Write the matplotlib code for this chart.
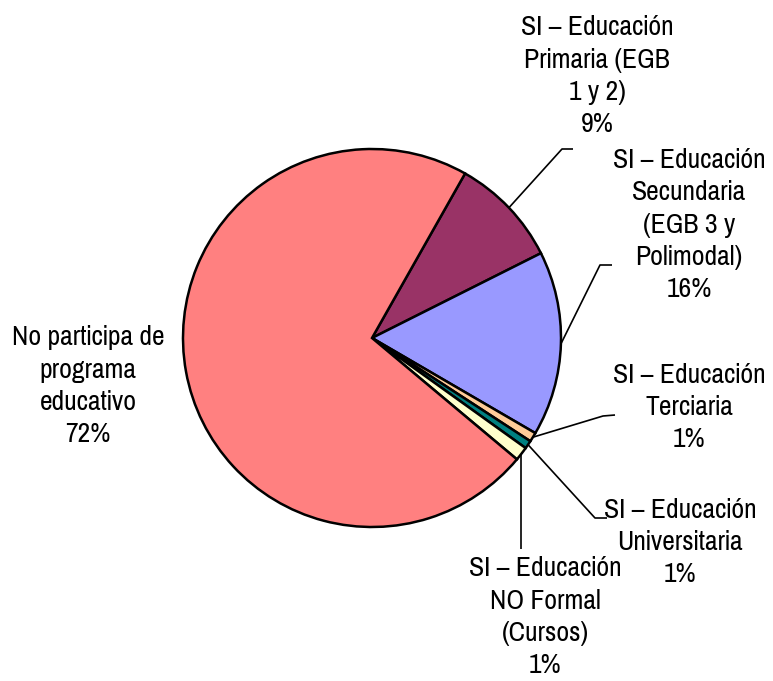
import matplotlib
matplotlib.use("Agg")
import matplotlib.pyplot as plt
import numpy as np

# slices, clockwise from the boundary at ~60 deg
labels = ["SI \u2013 Educación\nPrimaria (EGB\n1 y 2)",
          "SI \u2013 Educación\nSecundaria\n(EGB 3 y\nPolimodal)",
          "SI \u2013 Educación\nTerciaria",
          "SI \u2013 Educación\nUniversitaria",
          "SI \u2013 Educación\nNO Formal\n(Cursos)",
          "No participa de\nprograma\neducativo"]
values = [9.4, 15.8, 0.8, 0.7, 1.2, 72.1]
colors = ["#993366", "#9999FF", "#FFCC99", "#008080", "#FFFFCC", "#FF8080"]

W, H = 773, 681
plt.rcParams['font.family'] = ['Pragati Narrow', 'Roboto Condensed', 'Liberation Sans', 'DejaVu Sans']

fig = plt.figure(figsize=(W / 100, H / 100), dpi=100)
ax = fig.add_axes([0, 0, 1, 1])

cx, cy, r = 372, H - 338, 189
wedges, _ = ax.pie(values, colors=colors, startangle=60.5, counterclock=False,
                   center=(cx, cy), radius=r,
                   wedgeprops=dict(edgecolor='black', linewidth=1.8))
ax.set_xlim(0, W)
ax.set_ylim(0, H)
ax.set_aspect('equal')
ax.axis('off')

# label placement in image pixels: (center x, last baseline y), leader bends
label_pos = [(597, 132), (689, 297), (689, 447), (680, 582), (545, 673), (88, 442)]
leaders = [[(562, 149), (573, 149)],
           [(600, 265), (612, 265)],
           [(603, 416), (615, 415)],
           [(595, 518), (607, 518)],
           [None],
           []]

total = sum(values)
for w, lab, v, (lx, ly), pts in zip(wedges, labels, values, label_pos, leaders):
    pct = "%d%%" % round(100 * v / total)
    ax.text(lx, H - ly, lab + "\n" + pct, ha='center', va='baseline',
            multialignment='center', fontsize=21.7, linespacing=1.36, color='black')
    if not pts:
        continue
    mid = np.deg2rad((w.theta1 + w.theta2) / 2)
    x0, y0 = cx + r * np.cos(mid), cy + r * np.sin(mid)
    if pts == [None]:
        xs, ys = [x0, x0], [y0, H - 549]
    else:
        xs = [x0] + [p[0] for p in pts]
        ys = [y0] + [H - p[1] for p in pts]
    ax.plot(xs, ys, color='black', lw=1.2, solid_capstyle='butt')

fig.savefig("out.png", dpi=100, facecolor='white')
